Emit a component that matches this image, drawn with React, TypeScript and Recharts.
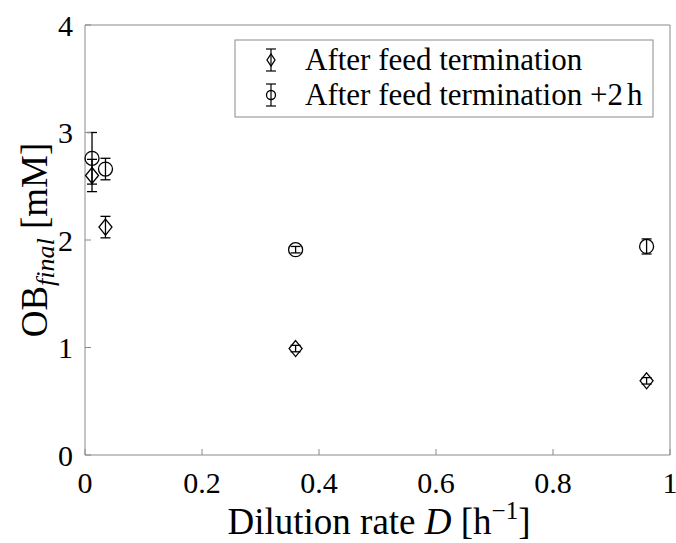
import React from 'react'
import { ScatterChart, Scatter, XAxis, YAxis, ErrorBar } from 'recharts'

// Dilution rate D [h^-1]
const dilution = [0.012, 0.035, 0.36, 0.96]

// OB_final [mM], after feed termination
const obAfterFeed = [2.6, 2.12, 0.99, 0.69]
const errAfterFeed = [0.15, 0.1, 0.03, 0.03]

// OB_final [mM], 2 h after feed termination
const obAfter2h = [2.76, 2.66, 1.91, 1.94]
const errAfter2h = [0.24, 0.1, 0.03, 0.07]

const xTicks = [0, 0.2, 0.4, 0.6, 0.8, 1]
const yTicks = [0, 1, 2, 3, 4]

const FONT = '"Liberation Serif", "Times New Roman", serif'
const FRAME = '#8a8a8a'
const TICK_LEN = 6

const feedData = dilution.map((x, i) => ({ x, y: obAfterFeed[i], err: errAfterFeed[i] }))
const plus2hData = dilution.map((x, i) => ({ x, y: obAfter2h[i], err: errAfter2h[i] }))

// marker shapes, MATLAB style (open, black)
function Diamond({ cx, cy, w = 6.5, h = 8 }: any) {
  return (
    <polygon
      points={`${cx},${cy - h} ${cx + w},${cy} ${cx},${cy + h} ${cx - w},${cy}`}
      fill="none"
      stroke="#000"
      strokeWidth={1.3}
    />
  )
}

function Ring({ cx, cy, r = 7 }: any) {
  return <circle cx={cx} cy={cy} r={r} fill="none" stroke="#000" strokeWidth={1.3} />
}

const fmt = (v: number) => String(v)

// ticks pointing into the plot box
function BottomTick({ x, y, payload }: any) {
  return (
    <g>
      <line x1={x} y1={y} x2={x} y2={y - TICK_LEN} stroke={FRAME} />
      <text x={x} y={y + 38} textAnchor="middle" fontFamily={FONT} fontSize={30} fill="#000">
        {fmt(payload.value)}
      </text>
    </g>
  )
}

function LeftTick({ x, y, payload }: any) {
  return (
    <g>
      <line x1={x} y1={y} x2={x + TICK_LEN} y2={y} stroke={FRAME} />
      <text x={x - 12} y={y} dy="0.35em" textAnchor="end" fontFamily={FONT} fontSize={30} fill="#000">
        {fmt(payload.value)}
      </text>
    </g>
  )
}

function TopTick({ x, y }: any) {
  return <line x1={x} y1={y} x2={x} y2={y + TICK_LEN} stroke={FRAME} />
}

function RightTick({ x, y }: any) {
  return <line x1={x} y1={y} x2={x - TICK_LEN} y2={y} stroke={FRAME} />
}

function LegendEntry({ y, label, kind }: { y: number; label: React.ReactNode; kind: 'diamond' | 'circle' }) {
  const mx = 271
  return (
    <g>
      <line x1={mx} y1={y - 11} x2={mx} y2={y + 11} stroke="#000" strokeWidth={1.2} />
      <line x1={mx - 5} y1={y - 11} x2={mx + 5} y2={y - 11} stroke="#000" strokeWidth={1.2} />
      <line x1={mx - 5} y1={y + 11} x2={mx + 5} y2={y + 11} stroke="#000" strokeWidth={1.2} />
      {kind === 'diamond' ? <Diamond cx={mx} cy={y} w={4} h={6} /> : <Ring cx={mx} cy={y} r={4.5} />}
      <text x={305} y={y + 10} fontFamily={FONT} fontSize={31} fill="#000">
        {label}
      </text>
    </g>
  )
}

const axisCommon = {
  type: 'number' as const,
  tickSize: 0,
  tickMargin: 0,
  tickLine: false,
  axisLine: { stroke: FRAME },
  interval: 0 as const,
}

export default function App() {
  return (
    <div style={{ position: 'absolute', left: 0, top: 0, width: 676, height: 543, background: '#fff' }}>
      <ScatterChart width={676} height={543} margin={{ top: 24, right: 5, left: 84, bottom: 87 }}>
        <XAxis {...axisCommon} dataKey="x" domain={[0, 1]} ticks={xTicks} height={1} tick={<BottomTick />} />
        <XAxis
          {...axisCommon}
          xAxisId="top"
          orientation="top"
          dataKey="x"
          domain={[0, 1]}
          ticks={xTicks}
          height={1}
          tick={<TopTick />}
        />
        <YAxis {...axisCommon} dataKey="y" domain={[0, 4]} ticks={yTicks} width={1} tick={<LeftTick />} />
        <YAxis
          {...axisCommon}
          yAxisId="right"
          orientation="right"
          dataKey="y"
          domain={[0, 4]}
          ticks={yTicks}
          width={1}
          tick={<RightTick />}
        />
        <Scatter data={feedData} isAnimationActive={false} shape={(p: any) => <Diamond cx={p.cx} cy={p.cy} />}>
          <ErrorBar dataKey="err" direction="y" width={5} stroke="#000" strokeWidth={1.3} isAnimationActive={false} />
        </Scatter>
        <Scatter data={plus2hData} isAnimationActive={false} shape={(p: any) => <Ring cx={p.cx} cy={p.cy} />}>
          <ErrorBar dataKey="err" direction="y" width={5} stroke="#000" strokeWidth={1.3} isAnimationActive={false} />
        </Scatter>
      </ScatterChart>

      {/* axis labels and legend */}
      <svg width={676} height={543} style={{ position: 'absolute', left: 0, top: 0, pointerEvents: 'none' }}>
        <text x={379} y={534} textAnchor="middle" fontFamily={FONT} fontSize={37} fill="#000">
          Dilution rate <tspan fontStyle="italic">D</tspan> [h
          <tspan fontSize={25} dy={-15}>−1</tspan>
          <tspan dy={15}>]</tspan>
        </text>
        <text
          transform="translate(47,240) rotate(-90)"
          textAnchor="middle"
          fontFamily={FONT}
          fontSize={37}
          fill="#000"
        >
          OB<tspan fontStyle="italic" fontSize={26} dy={7}>final</tspan>
          <tspan dy={-7}> [mM]</tspan>
        </text>

        <rect x={235} y={40} width={418} height={77} fill="#fff" stroke={FRAME} strokeWidth={1} />
        <LegendEntry y={60} kind="diamond" label="After feed termination" />
        <LegendEntry
          y={95}
          kind="circle"
          label={
            <>
              After feed termination +2<tspan dx={4}>h</tspan>
            </>
          }
        />
      </svg>
    </div>
  )
}
